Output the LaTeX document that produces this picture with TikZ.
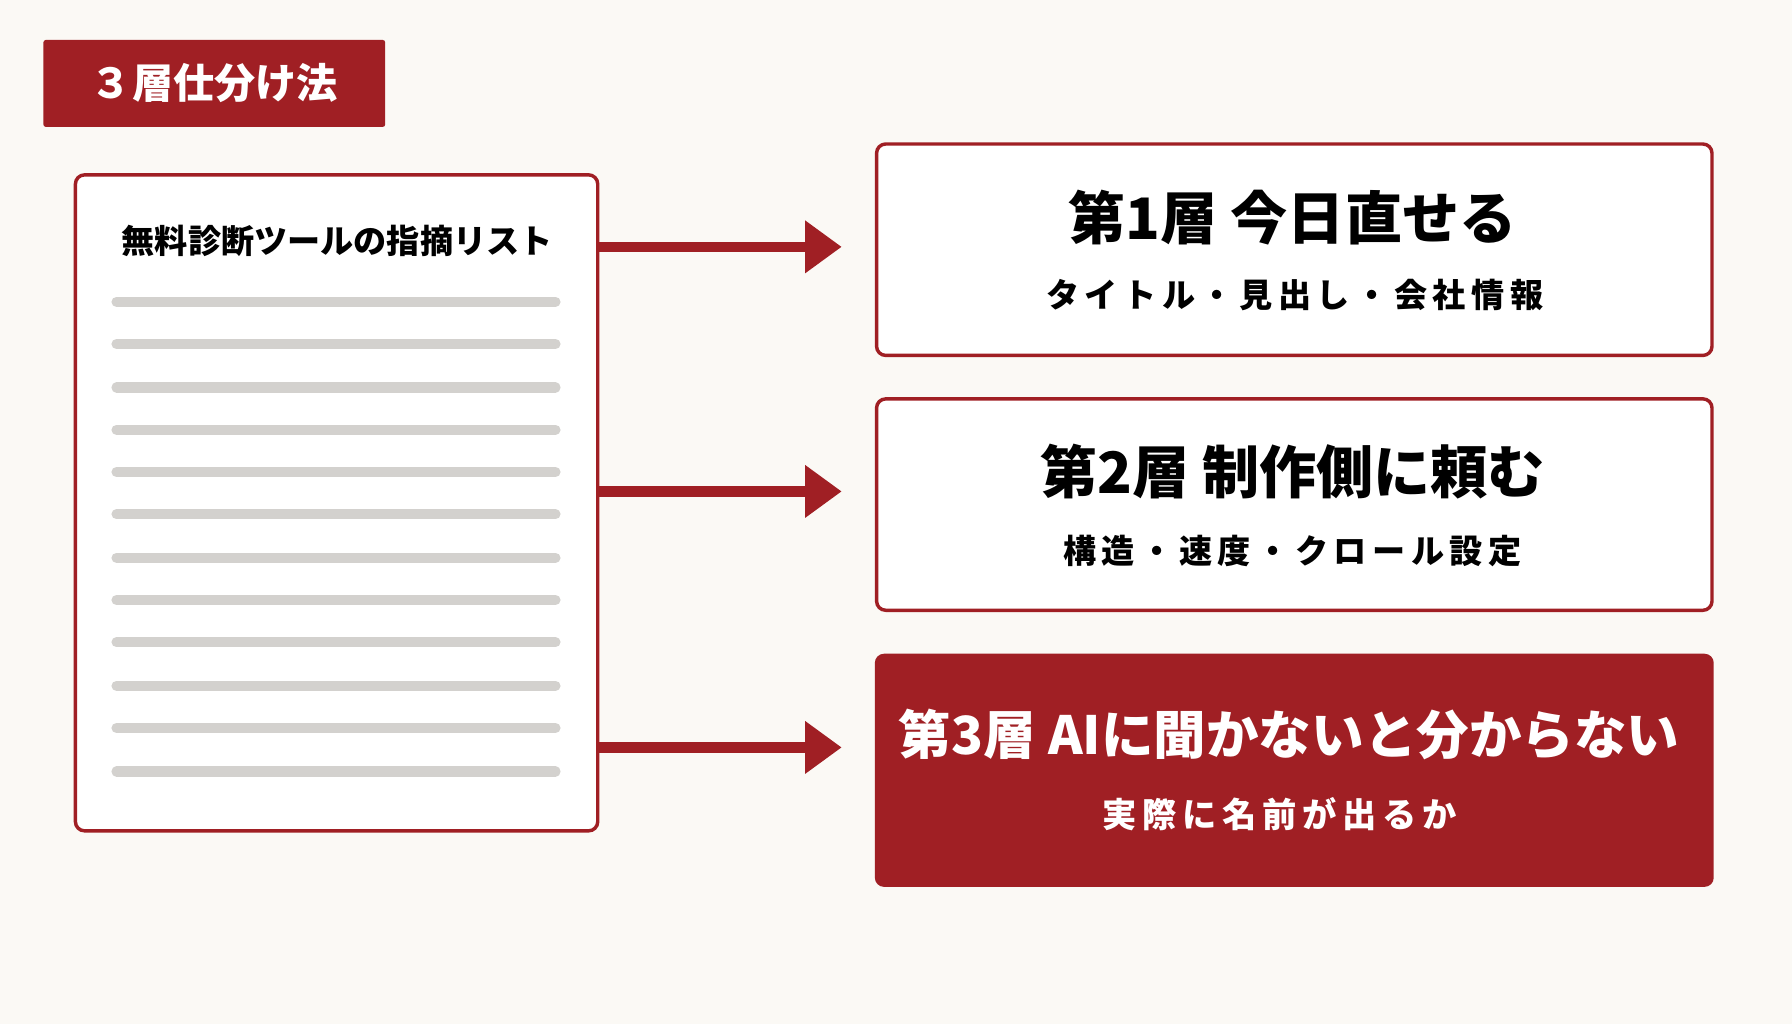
\documentclass[tikz,border=0pt]{standalone}
\usepackage{fontspec}
\setmainfont{Noto Sans CJK JP}
\usetikzlibrary{arrows.meta}
\definecolor{bgcol}{HTML}{FBF9F5}
\definecolor{darkred}{HTML}{A01F24}
\definecolor{listgray}{HTML}{D3D1CE}
\newcommand{\fs}[1]{\fontsize{#1}{#1}\selectfont\bfseries}
\begin{document}
\begin{tikzpicture}[x=1pt,y=-1pt,
  layerbox/.style={draw=darkred,line width=3pt,rounded corners=8pt,fill=white},
  listline/.style={listgray,line width=9pt,line cap=round},
  toarrow/.style={darkred,line width=9pt,-{Triangle[length=32pt,width=44pt]}}]
% background
\fill[bgcol] (0,0) rectangle (1568,896);
\useasboundingbox (0,0) rectangle (1568,896);

% tag
\node[fill=darkred,text=white,minimum width=299pt,minimum height=76pt,inner sep=0pt,rounded corners=2pt] (tag) at (187.5,73) {\fs{36}３層仕分け法};

% list document
\node[layerbox,minimum width=457pt,minimum height=574pt,inner sep=0pt] (doc) at (294.5,440) {};
\node (doctitle) at (295,211) {\fs{29}無料診断ツールの指摘リスト};
\foreach \y in {264,301,339,376,413,450,488,525,562,600,637,675}
  \draw[listline] (102,\y) -- (486,\y);

% layer boxes
\node[layerbox,minimum width=731pt,minimum height=185pt,inner sep=0pt] (layerA) at (1132.5,218.5) {};
\node (layerAtitle) at (1131,190) {\fs{50}第1層 今日直せる};
\node (layerAsub) at (1133,258) {\fs{29}タ\,イ\,ト\,ル\,・\,見\,出\,し\,・\,会\,社\,情\,報};

\node[layerbox,minimum width=731pt,minimum height=185pt,inner sep=0pt] (layerB) at (1132.5,441.5) {};
\node (layerBtitle) at (1131,413) {\fs{50}第2層 制作側に頼む};
\node (layerBsub) at (1131,482) {\fs{29}構\,造\,・\,速\,度\,・\,ク\,ロ\,ー\,ル\,設\,定};

\node[fill=darkred,rounded corners=8pt,minimum width=734pt,minimum height=204pt,inner sep=0pt] (layerC) at (1132.5,674) {};
\node[text=white] (layerCtitle) at (1128,643) {\fs{46}第3層 AIに聞かないと分からない};
\node[text=white] (layerCsub) at (1120,712) {\fs{30}実\,際\,に\,名\,前\,が\,出\,る\,か};

% arrows
\coordinate (srcA) at (doc.east |- 0,216);
\coordinate (srcB) at (doc.east |- 0,430);
\coordinate (srcC) at (doc.east |- 0,654);
\draw[toarrow] (srcA) -- ++(212,0);
\draw[toarrow] (srcB) -- ++(212,0);
\draw[toarrow] (srcC) -- ++(212,0);
\end{tikzpicture}
\end{document}
